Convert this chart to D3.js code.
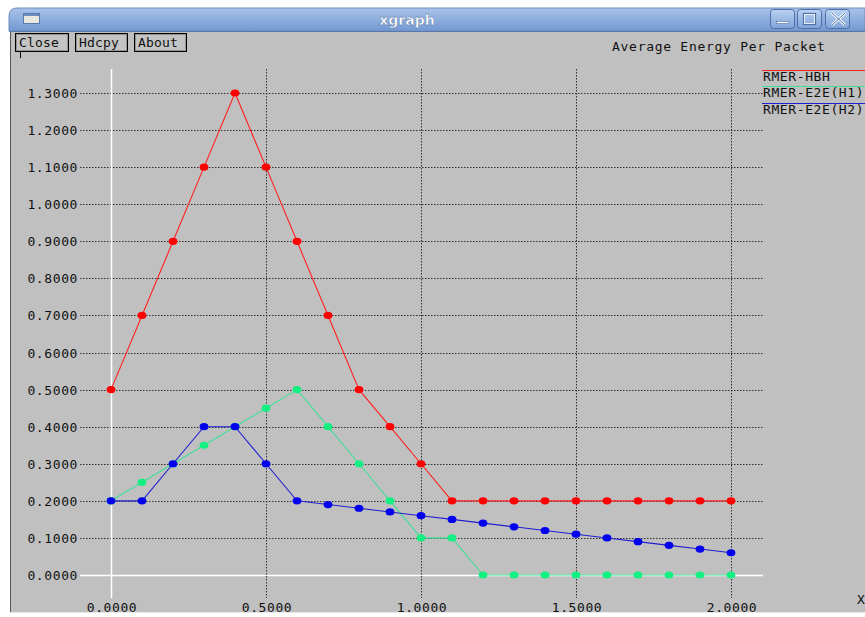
<!DOCTYPE html>
<html>
<head>
<meta charset="utf-8">
<script src="https://cdn.jsdelivr.net/npm/d3@7"></script>
<style>
  html, body { margin: 0; padding: 0; background: #ffffff; }
  svg { display: block; }
  .mono { font-family: "DejaVu Sans Mono", "Liberation Mono", monospace; font-size: 13px; letter-spacing: 0.6px; fill: #111; }
</style>
</head>
<body>
<script>
// Sample points along the x axis
const xValues = [0.0, 0.1, 0.2, 0.3, 0.4, 0.5, 0.6, 0.7, 0.8, 0.9, 1.0,
                 1.1, 1.2, 1.3, 1.4, 1.5, 1.6, 1.7, 1.8, 1.9, 2.0];

// Series values (one per x sample)
const hbh = [0.5, 0.7, 0.9, 1.1, 1.3, 1.1, 0.9, 0.7, 0.5, 0.4, 0.3,
             0.2, 0.2, 0.2, 0.2, 0.2, 0.2, 0.2, 0.2, 0.2, 0.2];
const e2eH1 = [0.2, 0.25, 0.3, 0.35, 0.4, 0.45, 0.5, 0.4, 0.3, 0.2, 0.1,
               0.1, 0.0, 0.0, 0.0, 0.0, 0.0, 0.0, 0.0, 0.0, 0.0];
const e2eH2 = [0.2, 0.2, 0.3, 0.4, 0.4, 0.3, 0.2, 0.19, 0.18, 0.17, 0.16,
               0.15, 0.14, 0.13, 0.12, 0.11, 0.10, 0.09, 0.08, 0.07, 0.06];

const seriesNames = ["RMER-HBH", "RMER-E2E(H1)", "RMER-E2E(H2)"];

// Tick positions
const xTicks = [0.0, 0.5, 1.0, 1.5, 2.0];
const yTicks = [0.0, 0.1, 0.2, 0.3, 0.4, 0.5, 0.6, 0.7, 0.8, 0.9, 1.0, 1.1, 1.2, 1.3];

const plotTitle = "Average Energy Per Packet";
const windowTitle = "xgraph";
const buttons = ["Close", "Hdcpy", "About"];

const W = 865, H = 617;
const colors = ["#ff0000", "#11f080", "#0000ee"];
const lineColors = ["#ff2020", "#40e098", "#2020d0"];

const svg = d3.select("body").append("svg").attr("width", W).attr("height", H);

// ---- window frame ----
const defs = svg.append("defs");
const grad = defs.append("linearGradient").attr("id", "tb").attr("x1", 0).attr("y1", 0).attr("x2", 0).attr("y2", 1);
grad.append("stop").attr("offset", "0%").attr("stop-color", "#a9c3ea");
grad.append("stop").attr("offset", "100%").attr("stop-color", "#7398d2");

const bgrad = defs.append("linearGradient").attr("id", "wb").attr("x1", 0).attr("y1", 0).attr("x2", 0).attr("y2", 1);
bgrad.append("stop").attr("offset", "0%").attr("stop-color", "#bcd2f2");
bgrad.append("stop").attr("offset", "100%").attr("stop-color", "#7ea2d8");

// body
svg.append("rect").attr("x", 10).attr("y", 30).attr("width", W - 10).attr("height", 582).attr("fill", "#c0c0c0");
svg.append("line").attr("x1", 10.5).attr("x2", 10.5).attr("y1", 30).attr("y2", 612).attr("stroke", "#555").attr("stroke-width", 1);
svg.append("line").attr("x1", 10).attr("x2", W).attr("y1", 612.5).attr("y2", 612.5).attr("stroke", "#e8e8e8");

// title bar with rounded top-left corner
svg.append("path")
  .attr("d", `M9,31 L9,16 Q9,8 17,8 L${W},8 L${W},31 Z`)
  .attr("fill", "url(#tb)").attr("stroke", "#6d8cbf").attr("stroke-width", 1);
svg.append("line").attr("x1", 9).attr("x2", W).attr("y1", 31.5).attr("y2", 31.5).attr("stroke", "#5a78a8");

// window menu icon
svg.append("rect").attr("x", 23.5).attr("y", 13.5).attr("width", 16).attr("height", 10)
  .attr("fill", "#e8e8e0").attr("stroke", "#5a78a8");
svg.append("rect").attr("x", 24).attr("y", 14).attr("width", 15).attr("height", 2).attr("fill", "#6d8cbf");

svg.append("text").attr("x", 407).attr("y", 25).attr("text-anchor", "middle")
  .attr("font-family", "DejaVu Sans, sans-serif").attr("font-weight", "bold").attr("font-size", 14)
  .attr("fill", "#ffffff").attr("stroke", "#4a6898").attr("stroke-width", 0.4).text(windowTitle);

// window control buttons
const ctrl = [770, 797, 825];
ctrl.forEach((cx, i) => {
  svg.append("rect").attr("x", cx + 0.5).attr("y", 9.5).attr("width", 24).attr("height", 19).attr("rx", 3)
    .attr("fill", "url(#wb)").attr("stroke", "#4d6fa6");
});
svg.append("rect").attr("x", 776.5).attr("y", 21.5).attr("width", 12).attr("height", 2).attr("fill", "#fff").attr("stroke", "#4d6fa6").attr("stroke-width", 0.6);
svg.append("rect").attr("x", 803.5).attr("y", 13.5).attr("width", 12).attr("height", 11).attr("fill", "none").attr("stroke", "#4d6fa6").attr("stroke-width", 1.2);
svg.append("rect").attr("x", 804.5).attr("y", 14.5).attr("width", 10).attr("height", 9).attr("fill", "none").attr("stroke", "#fff").attr("stroke-width", 0.8);
svg.append("path").attr("d", "M832,13 L845,25 M845,13 L832,25").attr("stroke", "#fff").attr("stroke-width", 2.6);
svg.append("path").attr("d", "M832,13 L845,25 M845,13 L832,25").attr("stroke", "#4d6fa6").attr("stroke-width", 1);

// xgraph buttons
const btnX = [15, 75, 134];
const btnW = [53, 52, 52];
buttons.forEach((b, i) => {
  svg.append("rect").attr("x", btnX[i] + 0.5).attr("y", 33.5).attr("width", btnW[i]).attr("height", 18)
    .attr("fill", "#c4c4c4").attr("stroke", "#000").attr("stroke-width", 1);
  svg.append("rect").attr("x", btnX[i] + 1.5).attr("y", 34.5).attr("width", btnW[i] - 2).attr("height", 16)
    .attr("fill", "none").attr("stroke", "#888").attr("stroke-width", 0.8);
  svg.append("text").attr("class", "mono").attr("x", btnX[i] + 4).attr("y", 47).style("letter-spacing", "0.2px").text(b);
});
svg.append("line").attr("x1", 20.5).attr("x2", 20.5).attr("y1", 52).attr("y2", 58).attr("stroke", "#000");

svg.append("text").attr("class", "mono").attr("x", 612).attr("y", 51).style("letter-spacing", "0.72px").text(plotTitle);

// ---- plot ----
const x = d3.scaleLinear().domain([0, 2]).range([111, 731]);
const y = d3.scaleLinear().domain([0, 1.3]).range([575, 93]);
const fmt = d3.format(".4f");
const gridLeft = 80, gridRight = 763, gridTop = 69, gridBottom = 598;

// horizontal grid lines
svg.append("g").selectAll("line").data(yTicks).join("line")
  .attr("x1", gridLeft).attr("x2", gridRight)
  .attr("y1", d => Math.round(y(d)) + 0.5).attr("y2", d => Math.round(y(d)) + 0.5)
  .attr("stroke", d => d === 0 ? "#ffffff" : "#303030")
  .attr("stroke-width", d => d === 0 ? 1.5 : 1)
  .attr("stroke-dasharray", d => d === 0 ? null : "1.5,1.5");

// vertical grid lines
svg.append("g").selectAll("line").data(xTicks).join("line")
  .attr("x1", d => Math.round(x(d)) + 0.5).attr("x2", d => Math.round(x(d)) + 0.5)
  .attr("y1", gridTop).attr("y2", gridBottom)
  .attr("stroke", d => d === 0 ? "#ffffff" : "#303030")
  .attr("stroke-width", d => d === 0 ? 1.5 : 1)
  .attr("stroke-dasharray", d => d === 0 ? null : "1.5,1.5");

// y tick labels
svg.append("g").selectAll("text").data(yTicks).join("text")
  .attr("class", "mono").attr("x", 78).attr("y", d => y(d) + 5)
  .attr("text-anchor", "end").text(d => fmt(d));

// x tick labels
svg.append("g").selectAll("text").data(xTicks).join("text")
  .attr("class", "mono").attr("x", d => x(d) + 1).attr("y", 612)
  .attr("text-anchor", "middle").text(d => fmt(d));

svg.append("text").attr("class", "mono").attr("x", 857).attr("y", 604).text("X");

// series
const allSeries = [hbh, e2eH1, e2eH2];
const line = d3.line().x((d, i) => x(xValues[i])).y(d => y(d));
allSeries.forEach((s, k) => {
  svg.append("path").datum(s).attr("d", line)
    .attr("fill", "none").attr("stroke", lineColors[k]).attr("stroke-width", 1.1);
  svg.append("g").selectAll("ellipse").data(s).join("ellipse")
    .attr("cx", (d, i) => x(xValues[i])).attr("cy", d => y(d))
    .attr("rx", 4.4).attr("ry", 3.6).attr("fill", colors[k]);
});

// legend
const legendY = [70, 86, 103];
seriesNames.forEach((n, k) => {
  svg.append("line").attr("x1", 762).attr("x2", W).attr("y1", legendY[k] + 0.5).attr("y2", legendY[k] + 0.5)
    .attr("stroke", lineColors[k]).attr("stroke-width", 1);
  svg.append("text").attr("class", "mono").attr("x", 763).attr("y", legendY[k] + 11).style("letter-spacing", "0.6px").text(n);
});
</script>
</body>
</html>
